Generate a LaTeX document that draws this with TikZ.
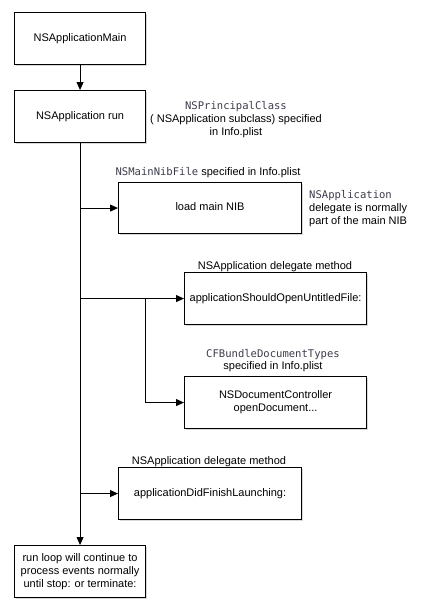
\documentclass[tikz,border=0pt]{standalone}
\usepackage{fontspec}
\setmainfont{Liberation Sans}
\newfontfamily\codefont[Scale=0.96]{DejaVu Sans Mono}
\usetikzlibrary{arrows.meta,shadows}
\definecolor{codegray}{RGB}{60,60,75}
\newcommand\cd[1]{{\codefont\color{codegray}#1}}
\begin{document}
\begin{tikzpicture}[x=1pt,y=-1pt,
  box/.style={draw=black,line width=1.1pt,fill=white,minimum width=#1,minimum height=52pt,
    inner sep=2pt,anchor=north west,align=center,font=\fontsize{11}{13}\selectfont,
    drop shadow={shadow xshift=1.6pt,shadow yshift=-1.6pt,opacity=0.3}},
  box/.default=131pt,
  note/.style={align=center,inner sep=0pt,font=\fontsize{11}{12.8}\selectfont},
  conn/.style={line width=0.9pt,-{Triangle[length=8pt,width=7pt]}}]
\useasboundingbox (0,0) rectangle (426,614);
% boxes
\node[box] (m) at (14,12) {\raisebox{3pt}{NSApplicationMain}};
\node[box] (r) at (14,90) {\raisebox{3pt}{NSApplication run}};
\node[box=183pt,minimum height=51pt] (nib) at (118,182) {\raisebox{3pt}{load main NIB}};
\node[box=182pt] (suf) at (184,272) {applicationShouldOpenUntitledFile:};
\node[box=182pt] (doc) at (184,376) {NSDocumentController\\openDocument...};
\node[box=183pt] (dfl) at (118,467) {\raisebox{2pt}{applicationDidFinishLaunching:}};
\node[box] (loop) at (14,545) {run loop will continue to\\process events normally\\until stop: or terminate:};
% labels
\node[note] (l1) at (236,119.5) {\cd{NSPrincipalClass}\\( NSApplication subclass) specified\\in Info.plist};
\node[note] (l2) at (208,173) {\cd{NSMainNibFile} specified in Info.plist};
\node[note,anchor=west,align=left] (l3) at (309,208.5) {\cd{NSApplication}\\delegate is normally\\part of the main NIB};
\node[note] (l4) at (275,267) {NSApplication delegate method};
\node[note] (l5) at (273,360.5) {\cd{CFBundleDocumentTypes}\\specified in Info.plist};
\node[note] (l6) at (209,462) {NSApplication delegate method};
% connectors
\draw[conn] (m.south) -- (r.north);
\draw[conn] (r.south) -- (loop.north);
\draw[conn] (r.south |- nib.west) -- (nib.west);
\draw[conn] (r.south |- suf.west) -- (suf.west);
\draw[conn] (r.south |- dfl.west) -- (dfl.west);
\coordinate (b) at (145,298);
\draw[conn] (b) |- (doc.west);
\end{tikzpicture}
\end{document}
